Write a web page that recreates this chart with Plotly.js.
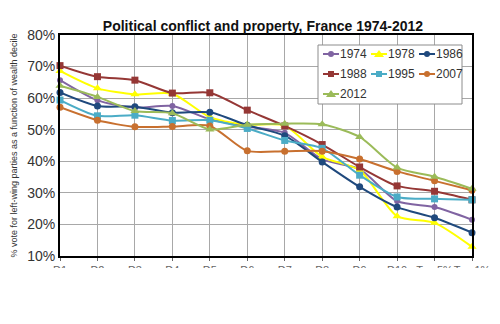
<!DOCTYPE html>
<html><head><meta charset="utf-8">
<script src="https://cdn.plot.ly/plotly-3.0.1.min.js"></script>
<style>html,body{margin:0;padding:0;background:#fff}#chart{width:500px;height:324px}</style>
</head><body><div id="chart"></div>
<script>
const deciles = ["D1","D2","D3","D4","D5","D6","D7","D8","D9","D10","Top 5%","Top 1%"];
const years = ["1974","1978","1986","1988","1995","2007","2012"];
const v1974 = [65.7, 59.3, 57.0, 57.5, 53.3, 51.0, 49.0, 40.6, 37.5, 27.4, 25.5, 21.5];
const v1978 = [68.6, 63.1, 61.2, 61.4, 54.0, 51.6, 51.3, 41.4, 37.2, 22.6, 20.5, 12.9];
const v1986 = [61.8, 57.5, 57.3, 55.4, 55.5, 51.4, 48.1, 39.8, 31.9, 25.5, 22.1, 17.4];
const v1988 = [70.3, 66.8, 65.7, 61.6, 61.7, 56.2, 51.2, 45.3, 38.2, 32.2, 30.5, 27.8];
const v1995 = [59.4, 54.4, 54.6, 52.9, 53.0, 50.4, 46.6, 44.1, 35.6, 28.7, 28.1, 27.8];
const v2007 = [57.1, 53.0, 50.9, 51.0, 51.2, 43.3, 43.2, 43.2, 40.7, 36.8, 33.8, 30.8];
const v2012 = [63.9, 60.4, 55.9, 55.2, 50.1, 51.6, 51.9, 51.7, 47.7, 38.0, 35.1, 31.3];
const series = [v1974, v1978, v1986, v1988, v1995, v2007, v2012];
const colors = ["#8064A2","#FFFF00","#1F497D","#953735","#4BACC6","#C8702F","#9BBB59"];
const symbols = ["circle","triangle-up","circle","square","square","circle","triangle-up"];
const sizes = [6,8,7,7,7,7,8];

const traces = series.map((v,i)=>({
  x: deciles, y: v, name: years[i], type:'scatter', mode:'lines+markers',
  line:{color:colors[i], width:2, shape:'spline', smoothing:0.7},
  marker:{color:colors[i], symbol:symbols[i], size:sizes[i]},
  cliponaxis:false, showlegend:false
}));

// Plot area in pixels (for layout decoration placement only)
const M = {l:60, r:28, t:35, b:68}, W = 500, H = 324;
const pw = W - M.l - M.r, ph = H - M.t - M.b;
const px = x => (x - M.l) / pw;
const py = y => (H - M.b - y) / ph;

// Custom legend (3 columns) built from the series names/styles
const shapes = [];
const annotations = [];
const lgX = 318, lgY = 45, lgW = 144, lgH = 59;
shapes.push({type:'rect', xref:'paper', yref:'paper', x0:px(lgX), x1:px(lgX+lgW), y0:py(lgY+lgH), y1:py(lgY),
  fillcolor:'#fff', line:{color:'#8c8c8c', width:1}, layer:'above'});
years.forEach((name,i)=>{
  const col = i % 3, row = Math.floor(i/3);
  const x0 = 323 + col*48, yc = 54 + row*20;
  shapes.push({type:'line', xref:'paper', yref:'paper', x0:px(x0), x1:px(x0+16), y0:py(yc), y1:py(yc),
    line:{color:colors[i], width:2}, layer:'above'});
  const mx = px(x0+8), my = py(yc);
  const s = 3;
  if (symbols[i]==='circle') {
    shapes.push({type:'circle', xref:'paper', yref:'paper', xsizemode:'pixel', ysizemode:'pixel', xanchor:mx, yanchor:my,
      x0:-s, x1:s, y0:-s, y1:s, fillcolor:colors[i], line:{width:0}, layer:'above'});
  } else if (symbols[i]==='square') {
    shapes.push({type:'rect', xref:'paper', yref:'paper', xsizemode:'pixel', ysizemode:'pixel', xanchor:mx, yanchor:my,
      x0:-s, x1:s, y0:-s, y1:s, fillcolor:colors[i], line:{width:0}, layer:'above'});
  } else {
    shapes.push({type:'path', xref:'paper', yref:'paper', xsizemode:'pixel', ysizemode:'pixel', xanchor:mx, yanchor:my,
      path:'M-5,-3L5,-3L0,4Z', fillcolor:colors[i], line:{width:0}, layer:'above'});
  }
  annotations.push({xref:'paper', yref:'paper', x:px(x0+15), y:py(yc), xanchor:'left', yanchor:'middle',
    text:name, showarrow:false, font:{size:12, color:'#333'}});
});
// white band hiding the lower part of the x tick labels, as in the source image
shapes.push({type:'rect', xref:'paper', yref:'paper', x0:-0.2, x1:1.1, y0:py(H-2), y1:py(268),
  fillcolor:'#fff', line:{width:0}, layer:'above'});

const layout = {
  width:W, height:H,
  margin:M,
  paper_bgcolor:'#fff', plot_bgcolor:'#fff',
  font:{family:'Arial, Liberation Sans, sans-serif', color:'#222'},
  title:{text:'<b>Political conflict and property, France 1974-2012</b>', x:0.526, xanchor:'center', y:0.918, yanchor:'middle', font:{size:14, color:'#111'}},
  xaxis:{type:'category', range:[0,11], showgrid:true, gridcolor:'#a8a8a8', gridwidth:1,
    showline:true, linecolor:'#000', linewidth:2, mirror:true, ticks:'outside', ticklen:3, tickcolor:'#666',
    tickangle:0, tickfont:{size:11, color:'#666'}, zeroline:false, fixedrange:true},
  yaxis:{range:[10,80], dtick:10, ticksuffix:'%', showgrid:true, gridcolor:'#a8a8a8', gridwidth:1,
    showline:true, linecolor:'#000', linewidth:2, mirror:true, ticks:'', tickfont:{size:14, color:'#333'},
    zeroline:false, fixedrange:true,
    title:{text:'% vote for left-wing parties as a function of wealth decile', font:{size:9, color:'#333'}, standoff:8}},
  shapes: shapes,
  annotations: annotations,
  showlegend:false
};
Plotly.newPlot('chart', traces, layout, {displayModeBar:false, staticPlot:true});
</script></body></html>
